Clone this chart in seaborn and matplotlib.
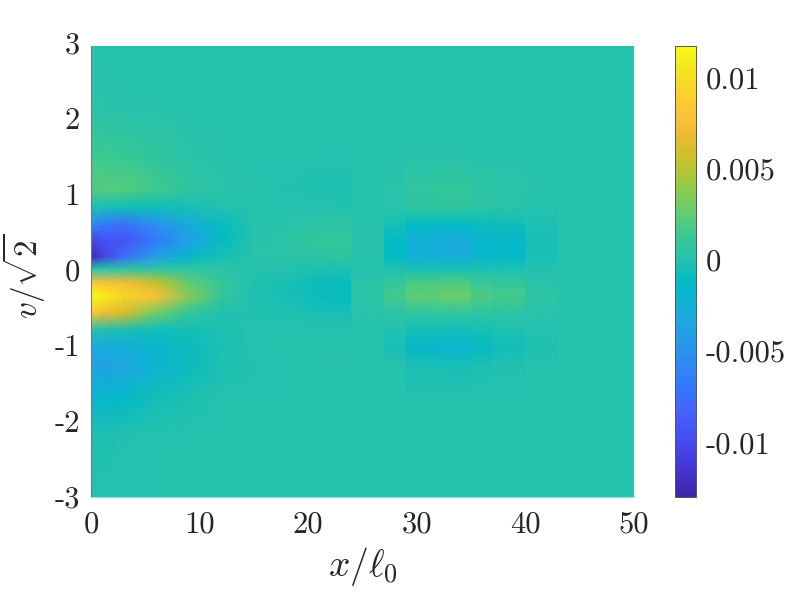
import numpy as np
import seaborn as sns
import matplotlib
matplotlib.use("Agg")
import matplotlib.pyplot as plt
from matplotlib.colors import LinearSegmentedColormap
from matplotlib.transforms import ScaledTranslation

# v nodes, bottom to top
v_nodes = [-3, -2.2, -1.7, -1.25, -1.0, -0.78, -0.55, -0.33, -0.15, 0.04, 0.2, 0.42, 0.62, 0.85, 1.1, 1.55, 2.2, 3]

# profiles, one per x position
p_x0 = [0, -0.0002, -0.0018, -0.0038, -0.0028, 0, 0.0085, 0.0117, 0.0085, 0, -0.0128, -0.0105, -0.0055, -0.0003, 0.002, 0.0014, 0.0002, 0]
p_x1 = [0, -0.0002, -0.0017, -0.0038, -0.0028, -0.0002, 0.007, 0.011, 0.008, 0, -0.0105, -0.0095, -0.0068, -0.0005, 0.0022, 0.0013, 0.0002, 0]
p_x3 = [0, -0.0001, -0.0014, -0.0034, -0.0026, -0.0004, 0.006, 0.0094, 0.0075, 0.0003, -0.0075, -0.0095, -0.0075, -0.0008, 0.0022, 0.0011, 0.0001, 0]
p_x6 = [0, 0, -0.0006, -0.002, -0.0017, -0.0008, 0.003, 0.0078, 0.0055, 0.0004, -0.004, -0.0068, -0.0052, -0.0008, 0.0014, 0.0007, 0.0001, 0]
p_x9 = [0, 0, -0.0002, -0.001, -0.0009, -0.0006, 0.0008, 0.0036, 0.0026, 0.0005, -0.0015, -0.004, -0.003, -0.0005, 0.0007, 0.0003, 0, 0]
p_x12 = [0, 0, 0, -0.0003, -0.0003, -0.0002, -0.0001, 0.001, 0.0009, 0.0004, -0.0005, -0.0012, -0.001, -0.0001, 0.0003, 0.0001, 0, 0]
p_x15 = [0, 0, 0, -0.0001, 0, 0, -0.0001, -0.0002, -0.0001, 0, 0.0002, 0, 0, 0, 0.0001, 0, 0, 0]
p_x18 = [0, 0, 0, 0, 0, 0, -0.0002, -0.0005, -0.0004, 0, 0.0003, 0.0005, 0.0002, 0, -0.0001, 0, 0, 0]
p_x21 = [0, 0, 0, 0.0001, 0, 0, -0.0004, -0.0009, -0.0009, -0.0002, 0.0005, 0.0009, 0.0005, 0, -0.0002, 0, 0, 0]
p_x24 = [0, 0, 0, 0.0001, 0.0001, 0.0001, -0.0005, -0.0011, -0.001, -0.0002, 0.0006, 0.001, 0.0005, -0.0001, -0.0003, 0, 0, 0]
p_b24 = [0, 0, 0, 0, 0, 0, 0.0002, 0.0004, 0.0003, 0, 0.0001, 0.0002, 0.0001, 0, 0, 0, 0, 0]
p_b27 = [0, 0, 0, 0, -0.0005, -0.0001, 0.0004, 0.0015, 0.001, -0.0002, -0.0012, -0.0014, -0.0005, 0.0002, 0.0003, 0, 0, 0]
p_b29 = [0, 0, 0, -0.0004, -0.0016, -0.0006, 0.0007, 0.0025, 0.0018, -0.0005, -0.0023, -0.0026, -0.0012, 0.0006, 0.0008, 0.0001, 0, 0]
p_b32 = [0, 0, 0, -0.0005, -0.0019, -0.0007, 0.0008, 0.0028, 0.002, -0.0006, -0.0026, -0.003, -0.0014, 0.0007, 0.0009, 0.0001, 0, 0]
p_b35 = [0, 0, 0, -0.0003, -0.0012, -0.0005, 0.0006, 0.0019, 0.0013, -0.0004, -0.0016, -0.0019, -0.001, 0.0004, 0.0006, 0, 0, 0]
p_b37 = [0, 0, 0, -0.0001, -0.0007, -0.0002, 0.0005, 0.0015, 0.001, -0.0003, -0.0014, -0.0016, -0.0008, 0.0002, 0.0004, 0, 0, 0]
p_b40 = [0, 0, 0, 0, -0.0002, 0, 0.0002, 0.0005, 0.0003, -0.0001, -0.0004, -0.0005, -0.0003, 0, 0.0001, 0, 0, 0]
p_end = [0] * 18

x_nodes = [0, 1.2, 3, 6, 9, 12, 15, 18, 21, 24, 24, 27, 27, 29, 29, 32, 32, 35, 35, 37, 37, 40, 40, 43, 43, 50]
columns = [p_x0, p_x1, p_x3, p_x6, p_x9, p_x12, p_x15, p_x18, p_x21, p_x24,
           p_b24, p_b24, p_b27, p_b27, p_b29, p_b29, p_b32, p_b32,
           p_b35, p_b35, p_b37, p_b37, p_b40, p_b40, p_end, p_end]

vmin, vmax = -0.01299, 0.01173
cbar_ticks = [-0.01, -0.005, 0, 0.005, 0.01]
cbar_labels = ["-0.01", "-0.005", "0", "0.005", "0.01"]

# parula, anchors at their place in the 64 colour table
parula_idx = [0, 4, 8, 12, 16, 20, 24, 27, 30, 33, 36, 39, 42, 45, 48, 51, 54, 57, 60, 63]
parula_rgb = [(0.2422, 0.1504, 0.6603), (0.2706, 0.2147, 0.8364), (0.2813, 0.3006, 0.9414),
              (0.2699, 0.3892, 0.9906), (0.1963, 0.4847, 0.9892), (0.1687, 0.5703, 0.9359),
              (0.1248, 0.6459, 0.8883), (0.0689, 0.6948, 0.8394), (0.0067, 0.7312, 0.7660),
              (0.1408, 0.7584, 0.6842), (0.2161, 0.7843, 0.5923), (0.3406, 0.8008, 0.4789),
              (0.5044, 0.7993, 0.3480), (0.6720, 0.7793, 0.2227), (0.8203, 0.7498, 0.1535),
              (0.9393, 0.7288, 0.2100), (0.9970, 0.7659, 0.2199), (0.9786, 0.8310, 0.1630),
              (0.9610, 0.9000, 0.1250), (0.9769, 0.9839, 0.0805)]
parula = LinearSegmentedColormap.from_list("parula", [(i / 63, c) for i, c in zip(parula_idx, parula_rgb)], N=256)

sns.set_theme(style="white")
plt.rcParams["font.family"] = "cmr10"
plt.rcParams["mathtext.fontset"] = "cm"
plt.rcParams["axes.unicode_minus"] = False

fig = plt.figure(figsize=(7.93, 5.95), dpi=100)
ax = fig.add_axes([91 / 793, 1 - 497 / 595, 543 / 793, 451 / 595])
cax = fig.add_axes([675 / 793, 1 - 497 / 595, 21 / 793, 451 / 595])

grid = np.array(columns).T
mesh = ax.pcolormesh(x_nodes, v_nodes, grid, shading="gouraud", cmap=parula, vmin=vmin, vmax=vmax)
ax.set_xlim(0, 50)
ax.set_ylim(-3, 3)
ax.set_xticks(range(0, 51, 10))
ax.set_yticks(range(-3, 4))
ax.set_yticklabels(["-3", "-2", "-1", "0", "1", "2", "3"])
ax.set_xlabel(r"$x/\ell_0$", fontsize=27, color="#262626", labelpad=5)
ax.set_ylabel(r"$v/\sqrt{2}$", fontsize=24, color="#262626", labelpad=5, y=0.49)
ax.tick_params(axis="x", length=0, labelsize=22, labelcolor="#262626", pad=10)
ax.tick_params(axis="y", direction="in", length=2, width=0.6, color="#777777", labelsize=22, labelcolor="#262626", pad=8, left=True)
for s in ["top", "right"]:
    ax.spines[s].set_visible(False)
ax.spines["left"].set_color("#777777")
ax.spines["left"].set_linewidth(0.8)
ax.spines["bottom"].set_color("#8fe0d2")
ax.spines["bottom"].set_linewidth(0.8)

# the y labels drift a little against their ticks in the original
for i, lab in enumerate(ax.get_yticklabels()):
    lab.set_transform(lab.get_transform() + ScaledTranslation(0, 0.5 * i / 100, fig.dpi_scale_trans))

cb = fig.colorbar(mesh, cax=cax)
cb.set_ticks(cbar_ticks)
cb.set_ticklabels(cbar_labels)
cb.outline.set_edgecolor("#555555")
cb.outline.set_linewidth(0.7)
cax.tick_params(direction="in", length=3.5, width=0.6, color="#555555", labelsize=22, labelcolor="#262626", pad=7, right=True)

fig.savefig("out.png", dpi=100)
